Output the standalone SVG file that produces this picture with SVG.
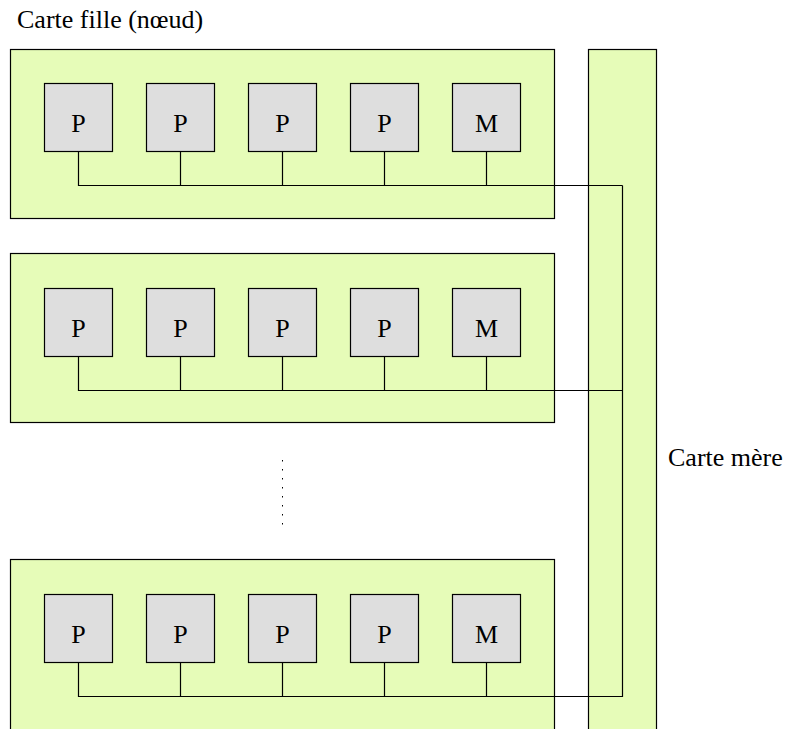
<svg xmlns="http://www.w3.org/2000/svg" width="792" height="729" viewBox="0 0 792 729">
<style>
.board{fill:#e6fcb8;stroke:#000;stroke-width:1.2}
.chip{fill:#dedede;stroke:#000;stroke-width:1.2}
.bus{fill:none;stroke:#000;stroke-width:1.2}
text{font-family:"Liberation Serif","Times New Roman",serif;font-size:26px;fill:#000}
.lbl{text-anchor:middle}
</style>
<rect width="792" height="729" fill="#fff"/>
<text x="17" y="28">Carte fille (nœud)</text>
<text x="668" y="466">Carte mère</text>
<g id="mother"><rect class="board" x="588.5" y="49.5" width="68" height="700"/></g>
<g id="board1">
<rect class="board" x="10.5" y="49.5" width="544" height="169"/>
<g id="b1p1"><rect class="chip" x="44.5" y="83.5" width="68" height="68"/><text class="lbl" x="78.5" y="132">P</text></g>
<g id="b1p2"><rect class="chip" x="146.5" y="83.5" width="68" height="68"/><text class="lbl" x="180.5" y="132">P</text></g>
<g id="b1p3"><rect class="chip" x="248.5" y="83.5" width="68" height="68"/><text class="lbl" x="282.5" y="132">P</text></g>
<g id="b1p4"><rect class="chip" x="350.5" y="83.5" width="68" height="68"/><text class="lbl" x="384.5" y="132">P</text></g>
<g id="b1m"><rect class="chip" x="452.5" y="83.5" width="68" height="68"/><text class="lbl" x="486.5" y="132">M</text></g>
</g>
<g id="board2">
<rect class="board" x="10.5" y="253.5" width="544" height="169"/>
<g id="b2p1"><rect class="chip" x="44.5" y="288.5" width="68" height="68"/><text class="lbl" x="78.5" y="337">P</text></g>
<g id="b2p2"><rect class="chip" x="146.5" y="288.5" width="68" height="68"/><text class="lbl" x="180.5" y="337">P</text></g>
<g id="b2p3"><rect class="chip" x="248.5" y="288.5" width="68" height="68"/><text class="lbl" x="282.5" y="337">P</text></g>
<g id="b2p4"><rect class="chip" x="350.5" y="288.5" width="68" height="68"/><text class="lbl" x="384.5" y="337">P</text></g>
<g id="b2m"><rect class="chip" x="452.5" y="288.5" width="68" height="68"/><text class="lbl" x="486.5" y="337">M</text></g>
</g>
<g id="board3">
<rect class="board" x="10.5" y="559.5" width="544" height="190"/>
<g id="b3p1"><rect class="chip" x="44.5" y="594.5" width="68" height="68"/><text class="lbl" x="78.5" y="643">P</text></g>
<g id="b3p2"><rect class="chip" x="146.5" y="594.5" width="68" height="68"/><text class="lbl" x="180.5" y="643">P</text></g>
<g id="b3p3"><rect class="chip" x="248.5" y="594.5" width="68" height="68"/><text class="lbl" x="282.5" y="643">P</text></g>
<g id="b3p4"><rect class="chip" x="350.5" y="594.5" width="68" height="68"/><text class="lbl" x="384.5" y="643">P</text></g>
<g id="b3m"><rect class="chip" x="452.5" y="594.5" width="68" height="68"/><text class="lbl" x="486.5" y="643">M</text></g>
</g>
<g id="connectors">
<path class="bus" d="M78.5 151.5V185.5H622.5M180.5 151.5V185.5M282.5 151.5V185.5M384.5 151.5V185.5M486.5 151.5V185.5"/>
<path class="bus" d="M78.5 356.5V390.5H622.5M180.5 356.5V390.5M282.5 356.5V390.5M384.5 356.5V390.5M486.5 356.5V390.5"/>
<path class="bus" d="M78.5 662.5V696.5H622.5V185.5M180.5 662.5V696.5M282.5 662.5V696.5M384.5 662.5V696.5M486.5 662.5V696.5"/>
<line x1="282.5" y1="460" x2="282.5" y2="527" stroke="#000" stroke-width="1" stroke-dasharray="1.5,7.5"/>
</g>
</svg>
